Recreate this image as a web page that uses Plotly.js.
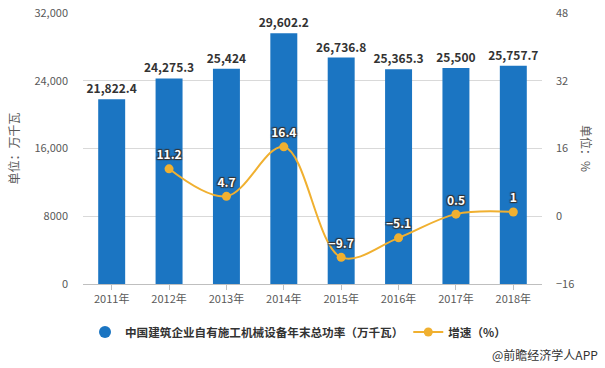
<!DOCTYPE html>
<html><head><meta charset="utf-8">
<script src="https://cdn.plot.ly/plotly-3.0.1.min.js"></script>
<style>html,body{margin:0;padding:0;background:#fff}#c{width:605px;height:368px}</style>
</head><body><div id="c"></div>
<script>
const years = ["2011年","2012年","2013年","2014年","2015年","2016年","2017年","2018年"];
const power = [21822.4, 24275.3, 25424, 29602.2, 26736.8, 25365.3, 25500, 25757.7];
const growth = [null, 11.2, 4.7, 16.4, -9.7, -5.1, 0.5, 1];
const leftTicks = [0, 8000, 16000, 24000, 32000];
const leftTickText = ["0", "8000", "16,000", "24,000", "32,000"];
const rightTicks = [-16, 0, 16, 32, 48];
const barName = "中国建筑企业自有施工机械设备年末总功率（万千瓦）";
const lineName = "增速（%）";
const font = "'Noto Sans CJK SC', 'Noto Sans', sans-serif";
const growthText = growth.map(v => v === null ? "" : String(v).replace("-", "−"));
const blue = "#1b75c2", gold = "#f0b030";

const traces = [
  {type:"bar", x:years, y:power, name:barName, marker:{color:blue}, width:0.47, showlegend:false,
   text:power.map(v=>v.toLocaleString("en-US")), textposition:"outside", cliponaxis:false,
   constraintext:"none",
   textfont:{family:font, size:12, color:"#333", weight:"bold"}, hoverinfo:"none"},
  {type:"scatter", mode:"markers", x:[null], y:[null], name:barName,
   marker:{color:blue, size:12, symbol:"circle"}, hoverinfo:"none"},
  {type:"scatter", mode:"lines+markers+text", x:years, y:growth, yaxis:"y2", name:lineName,
   line:{color:gold, width:2, shape:"spline", smoothing:1}, marker:{color:gold, size:9},
   text:growthText, textposition:"top center", cliponaxis:false, connectgaps:false,
   textfont:{family:font, size:12, color:"#fff", weight:"bold",
     shadow:"1px 1px 1px #333, -1px -1px 1px #333, 1px -1px 1px #333, -1px 1px 1px #333"},
   hoverinfo:"none"}
];
const layout = {
  width:605, height:368, margin:{l:83, r:63, t:13, b:84},
  paper_bgcolor:"#fff", plot_bgcolor:"rgba(0,0,0,0)",
  font:{family:font, size:11, color:"#595959"},
  showlegend:true, bargap:0.53,
  xaxis:{type:"category", showgrid:false, showline:true, linecolor:"#bfbfbf", linewidth:1,
    ticks:"outside", ticklen:5, tickcolor:"#bfbfbf", tickfont:{size:11, color:"#595959"}},
  yaxis:{range:[0,32000], tickvals:leftTicks, ticktext:leftTickText, showgrid:true,
    gridcolor:"#d9d9d9", zeroline:false, showline:false, ticks:"", ticklabelstandoff:14,
    title:{text:"单位：万千瓦", font:{size:12, color:"#595959"}, standoff:12}},
  yaxis2:{overlaying:"y", side:"right", range:[-16,48], tickvals:rightTicks, showgrid:false,
    zeroline:false, showline:false, ticks:"", ticklabelstandoff:13},
  legend:{orientation:"h", xref:"container", yref:"container", x:85/605, y:1-332/368,
    xanchor:"left", yanchor:"middle", font:{size:11.6, color:"#333", weight:"bold"},
    itemwidth:30, traceorder:"normal"},
  annotations:[
    {text:"单位：%", xref:"paper", yref:"paper", x:1, xshift:55, y:0.5, textangle:90,
     showarrow:false, font:{size:12, color:"#595959"}},
    {text:"@前瞻经济学人APP", xref:"paper", yref:"paper", x:1, xshift:58, xanchor:"right",
     y:0, yshift:-70, yanchor:"middle", showarrow:false, font:{size:12, color:"#333"}}
  ]
};
Plotly.newPlot("c", traces, layout, {staticPlot:true, displayModeBar:false});
</script></body></html>
